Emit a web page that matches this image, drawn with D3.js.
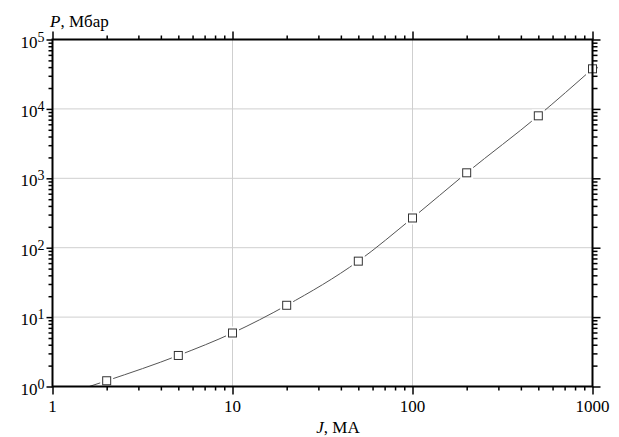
<!DOCTYPE html>
<html>
<head>
<meta charset="utf-8">
<script src="https://cdn.jsdelivr.net/npm/d3@7"></script>
</head>
<body style="margin:0;background:#fff">
<svg id="chart" width="619" height="437" style="display:block"></svg>
<script>
// Pressure vs. current: measured points
const currentMA = [2, 5, 10, 20, 50, 100, 200, 500, 1000];
const pressureMbar = [1.21, 2.8, 5.9, 14.8, 64, 268, 1200, 7950, 37800];
// Where the fitted curve enters the plot at the bottom edge
const curveStart = [1.6, 1.0];

const xTicks = [1, 10, 100, 1000];
const xTickLabels = ["1", "10", "100", "1000"];
const yTicks = [1, 10, 100, 1000, 1e4, 1e5];
const yTickExponents = ["0", "1", "2", "3", "4", "5"];

const FONT = '"Liberation Serif", "Times New Roman", "DejaVu Serif", serif';
const L = 52.5, R = 592.5, T = 39.5, B = 386.5;

const svg = d3.select("#chart");
const x = d3.scaleLog().domain([1, 1000]).range([L, R]);
const y = d3.scaleLog().domain([1, 1e5]).range([B, T]);

// text helper: serif face set inline on every label
function serif(sel, size) {
  return sel.style("font-family", FONT).attr("font-size", size);
}

// minor tick positions (2..9 within each decade)
const minorX = [], minorY = [];
for (let d = 1; d < 1000; d *= 10) for (let k = 2; k <= 9; k++) minorX.push(d * k);
for (let d = 1; d < 1e5; d *= 10) for (let k = 2; k <= 9; k++) minorY.push(d * k);

// grid lines at inner decades
const grid = svg.append("g").attr("stroke", "#cfcfcf").attr("stroke-width", 1);
grid.selectAll("line.gx").data(xTicks.slice(1, -1)).join("line")
  .attr("x1", d => x(d)).attr("x2", d => x(d)).attr("y1", T).attr("y2", B);
grid.selectAll("line.gy").data(yTicks.slice(1, -1)).join("line")
  .attr("y1", d => y(d)).attr("y2", d => y(d)).attr("x1", L).attr("x2", R);

// axes on all four sides, ticks outward
function addAxis(axisFn, scale, transform, values, size) {
  const g = svg.append("g").attr("transform", transform)
    .call(axisFn(scale).tickValues(values).tickSize(size).tickFormat(""));
  g.select(".domain").remove();
  g.selectAll(".tick text").remove();
  g.selectAll(".tick line").attr("stroke", "#000").attr("stroke-width", 1.5);
  return g;
}
addAxis(d3.axisBottom, x, `translate(0,${B})`, minorX, 4);
addAxis(d3.axisBottom, x, `translate(0,${B})`, xTicks, 8);
addAxis(d3.axisTop, x, `translate(0,${T})`, minorX, 4);
addAxis(d3.axisTop, x, `translate(0,${T})`, xTicks, 8);
addAxis(d3.axisLeft, y, `translate(${L},0)`, minorY, 4);
addAxis(d3.axisLeft, y, `translate(${L},0)`, yTicks, 6);
addAxis(d3.axisRight, y, `translate(${R},0)`, minorY, 5);
addAxis(d3.axisRight, y, `translate(${R},0)`, yTicks, 8);

// curve through the points
const clip = svg.append("clipPath").attr("id", "plotclip");
clip.append("rect").attr("x", L).attr("y", T).attr("width", R - L).attr("height", B - T);

const linePts = [curveStart].concat(currentMA.map((j, i) => [j, pressureMbar[i]]));
const line = d3.line().x(d => x(d[0])).y(d => y(d[1])).curve(d3.curveMonotoneX);
svg.append("path").attr("d", line(linePts)).attr("clip-path", "url(#plotclip)")
  .attr("fill", "none").attr("stroke", "#555").attr("stroke-width", 1);

// markers with a white margin around them
const pts = currentMA.map((j, i) => ({ j, p: pressureMbar[i] }));
const s = 8, halo = 13;
svg.append("g").selectAll("rect").data(pts).join("rect")
  .attr("x", d => x(d.j) - halo / 2).attr("y", d => y(d.p) - halo / 2)
  .attr("width", halo).attr("height", halo).attr("fill", "#fff")
  .attr("clip-path", "url(#plotclip)");
svg.append("g").selectAll("rect").data(pts).join("rect")
  .attr("x", d => x(d.j) - s / 2).attr("y", d => y(d.p) - s / 2)
  .attr("width", s).attr("height", s).attr("fill", "#fff")
  .attr("stroke", "#333").attr("stroke-width", 1);

// frame
svg.append("rect").attr("x", L).attr("y", T).attr("width", R - L).attr("height", B - T)
  .attr("fill", "none").attr("stroke", "#000").attr("stroke-width", 2);

// tick labels
serif(svg.append("g").selectAll("text").data(xTicks).join("text"), 17)
  .attr("x", d => x(d)).attr("y", 411.5).attr("text-anchor", "middle")
  .text((d, i) => xTickLabels[i]);

const yl = serif(svg.append("g").selectAll("text").data(yTicks).join("text"), 17)
  .attr("x", 44.5).attr("y", d => y(d) + 8).attr("text-anchor", "end");
yl.append("tspan").text("10");
serif(yl.append("tspan"), 14).attr("dy", -6).text((d, i) => yTickExponents[i]);

// axis titles
const yt = serif(svg.append("text"), 17).attr("x", 50).attr("y", 26.5);
yt.append("tspan").style("font-style", "italic").text("P");
yt.append("tspan").text(", Мбар");

const xt = serif(svg.append("text"), 17).attr("x", 338).attr("y", 432.5)
  .attr("text-anchor", "middle");
xt.append("tspan").style("font-style", "italic").text("J");
xt.append("tspan").text(", МА");
</script>
</body>
</html>
